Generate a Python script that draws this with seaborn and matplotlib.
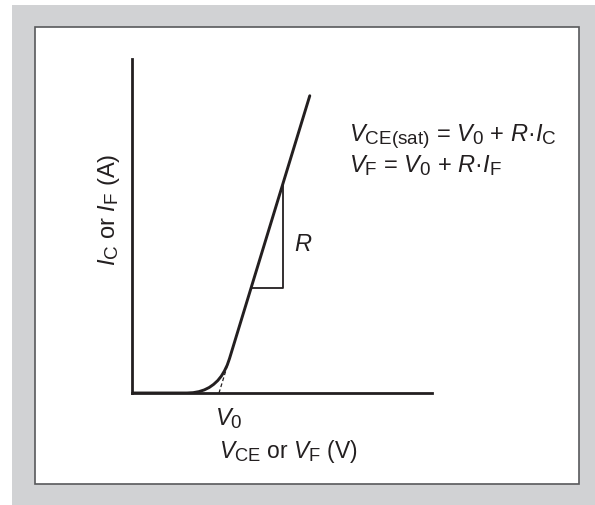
import numpy as np
import pandas as pd
import matplotlib
matplotlib.use("Agg")
import matplotlib.pyplot as plt
import matplotlib._mathtext as _mt
from matplotlib.patches import Rectangle
import seaborn as sns

# Diode / transistor on-state model: V = V0 + R * I
V0 = 0.87          # threshold voltage (V)
R = 0.102          # on-state slope resistance (ohm)
I_TOP = 8.9        # current at the top end of the straight section (A)

# Knee of the characteristic, read as (V, I) points
knee_v = [0.00, 0.55, 0.612, 0.669, 0.723, 0.772, 0.816, 0.857, 0.893, 0.924, 0.952, 0.975]
knee_i = [0.00, 0.00, 0.010, 0.041, 0.093, 0.165, 0.258, 0.371, 0.505, 0.659, 0.834, 1.03]

# end of the dashed tangent (A)
TANGENT_I = 0.78

# Slope triangle: current levels of its lower and upper corners
tri_i_lo = 3.15
tri_i_hi = 6.3

X_MAX = 3.0
Y_MAX = 10.0

# larger sub/superscripts than the mathtext default
_mt.SHRINK_FACTOR = 0.8

sns.set_theme(style="white")
plt.rcParams["font.family"] = ["Liberation Sans", "DejaVu Sans"]
plt.rcParams["mathtext.fontset"] = "custom"
plt.rcParams["mathtext.rm"] = "Liberation Sans"
plt.rcParams["mathtext.it"] = "Liberation Sans:italic"
plt.rcParams["mathtext.bf"] = "Liberation Sans:bold"

W, H = 595, 505
fig = plt.figure(figsize=(W / 100, H / 100), dpi=100, facecolor="white")

def fx(px):
    return px / W

def fy(py):
    return 1 - py / H

# gray frame and white panel
fig.patches.append(Rectangle((fx(12), 0), 1 - fx(12), fy(5), transform=fig.transFigure,
                             facecolor="#d1d2d4", edgecolor="none", zorder=0))
fig.patches.append(Rectangle((fx(35), fy(484)), fx(579) - fx(35), fy(27) - fy(484),
                             transform=fig.transFigure, facecolor="white",
                             edgecolor="#58595b", linewidth=1.2, zorder=1))

ax = fig.add_axes([fx(132), fy(393), fx(432) - fx(132), fy(59) - fy(393)])
ax.set_facecolor("none")
ax.set_zorder(2)

ink = "#231f20"

# curve: knee followed by the straight section
line_i = [knee_i[-1], I_TOP]
line_v = [V0 + R * i for i in line_i]
curve = pd.DataFrame({"V": knee_v + line_v[1:], "I": knee_i + line_i[1:]})
sns.lineplot(data=curve, x="V", y="I", sort=False, estimator=None, color=ink,
             linewidth=2.1, ax=ax)

# dashed tangent back to V0
tangent = pd.DataFrame({"V": [V0, V0 + R * TANGENT_I], "I": [0.0, TANGENT_I]})
sns.lineplot(data=tangent, x="V", y="I", sort=False, estimator=None, color=ink,
             linewidth=0.9, linestyle=(0, (3, 2)), ax=ax)

# slope triangle
tri = pd.DataFrame({
    "V": [V0 + R * tri_i_lo, V0 + R * tri_i_hi, V0 + R * tri_i_hi],
    "I": [tri_i_lo, tri_i_lo, tri_i_hi],
})
sns.lineplot(data=tri, x="V", y="I", sort=False, estimator=None, color=ink,
             linewidth=1.3, ax=ax)

ax.set_xlim(0, X_MAX)
ax.set_ylim(0, Y_MAX)
ax.set_xticks([])
ax.set_yticks([])
for side in ("top", "right"):
    ax.spines[side].set_visible(False)
for side in ("left", "bottom"):
    ax.spines[side].set_color(ink)
    ax.spines[side].set_linewidth(2.0)

fs = 17
ax.set_xlabel(r"$V_{\mathrm{CE}}$ or $V_{\mathrm{F}}$ (V)", fontsize=16.5, color=ink)
ax.set_ylabel(r"$I_{\mathrm{C}}$ or $I_{\mathrm{F}}$ (A)", fontsize=fs, color=ink)
ax.xaxis.set_label_coords(0.52, -0.135)
ax.yaxis.set_label_coords(-0.035, 0.548)

ax.text(V0 + 0.1, -0.4, r"$V_0$", fontsize=fs, color=ink, ha="center", va="top", clip_on=False)
ax.text(V0 + R * tri_i_hi + 0.2, (tri_i_lo + tri_i_hi) / 2 - 0.3, r"$R$", fontsize=fs,
        color=ink, ha="center", va="center")

fig.text(fx(349), fy(141), r"$V_{\mathrm{CE(sat)}}$ = $V_0$ + $R$·$I_{\mathrm{C}}$",
         fontsize=fs, color=ink, ha="left", va="baseline")
fig.text(fx(349), fy(172), r"$V_{\mathrm{F}}$ = $V_0$ + $R$·$I_{\mathrm{F}}$",
         fontsize=fs, color=ink, ha="left", va="baseline")

fig.savefig("out.png", dpi=100, facecolor="white")
